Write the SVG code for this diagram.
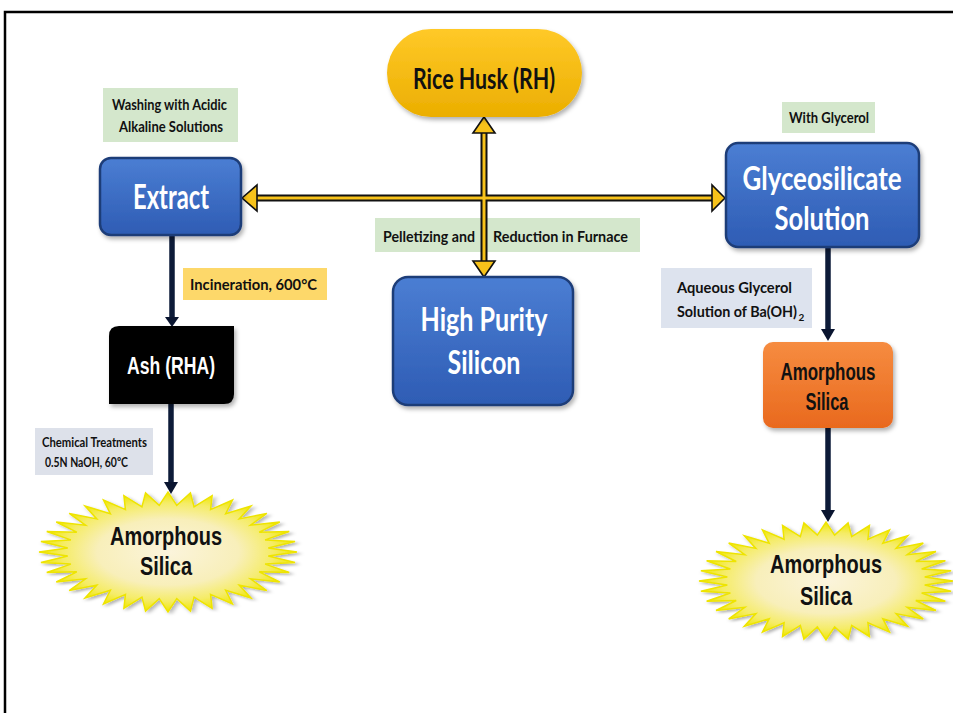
<svg xmlns="http://www.w3.org/2000/svg" width="953" height="713" viewBox="0 0 953 713">
<style>
.lbl{font-family:"Lato","Liberation Sans",sans-serif;font-weight:bold;font-size:15.5px;fill:#111}
.big{font-family:"Lato","Liberation Sans",sans-serif;font-weight:bold;fill:#fff;text-anchor:middle}
.ari{font-family:"Liberation Sans","Arial",sans-serif;font-weight:bold;text-anchor:middle}
.blue{fill:url(#gBlue);stroke:#1F3D78;stroke-width:2.5}
.shaftK{stroke:#111;stroke-width:7;fill:none}
.shaftY{stroke:#F7C21A;stroke-width:3;fill:none}
.headY{fill:#F7C21A;stroke:#111;stroke-width:1.6;stroke-linejoin:miter}
.shaftB{stroke:#0D1B38;stroke-width:5.5;fill:none}
.headB{fill:#0A1530}
.star{fill:url(#gStar);stroke:#EEE400;stroke-width:1.5}
</style>
<defs>
<linearGradient id="gBlue" x1="0" y1="0" x2="0" y2="1"><stop offset="0" stop-color="#4B7ED3"/><stop offset="1" stop-color="#2E5CB4"/></linearGradient>
<linearGradient id="gGold" x1="0" y1="0" x2="0" y2="1"><stop offset="0" stop-color="#FFC928"/><stop offset="1" stop-color="#EBAE00"/></linearGradient>
<linearGradient id="gOrange" x1="0" y1="0" x2="0" y2="1"><stop offset="0" stop-color="#F68C40"/><stop offset="1" stop-color="#E9691E"/></linearGradient>
<radialGradient id="gStar" cx="0.5" cy="0.5" r="0.5"><stop offset="0" stop-color="#FBF4DC"/><stop offset="0.55" stop-color="#F8EFBA"/><stop offset="0.82" stop-color="#F5EC66"/><stop offset="1" stop-color="#EFE600"/></radialGradient>
<filter id="sh" x="-20%" y="-20%" width="140%" height="150%"><feDropShadow dx="2" dy="3" stdDeviation="2" flood-color="#000" flood-opacity="0.3"/></filter>
<polygon id="starP" vector-effect="non-scaling-stroke" points="100,0 77.7,6.8 98.5,17.4 75.3,20.2 94,34.2 70.7,33 86.6,50 63.9,44.7 76.6,64.3 55.2,55.2 64.3,76.6 44.7,63.9 50,86.6 33,70.7 34.2,94 20.2,75.3 17.4,98.5 6.8,77.7 0,100 -6.8,77.7 -17.4,98.5 -20.2,75.3 -34.2,94 -33,70.7 -50,86.6 -44.7,63.9 -64.3,76.6 -55.2,55.2 -76.6,64.3 -63.9,44.7 -86.6,50 -70.7,33 -94,34.2 -75.3,20.2 -98.5,17.4 -77.7,6.8 -100,0 -77.7,-6.8 -98.5,-17.4 -75.3,-20.2 -94,-34.2 -70.7,-33 -86.6,-50 -63.9,-44.7 -76.6,-64.3 -55.2,-55.2 -64.3,-76.6 -44.7,-63.9 -50,-86.6 -33,-70.7 -34.2,-94 -20.2,-75.3 -17.4,-98.5 -6.8,-77.7 0,-100 6.8,-77.7 17.4,-98.5 20.2,-75.3 34.2,-94 33,-70.7 50,-86.6 44.7,-63.9 64.3,-76.6 55.2,-55.2 76.6,-64.3 63.9,-44.7 86.6,-50 70.7,-33 94,-34.2 75.3,-20.2 98.5,-17.4 77.7,-6.8"/>
</defs>
<rect width="953" height="713" fill="#fff"/>
<rect x="5" y="12" width="970" height="730" fill="none" stroke="#000" stroke-width="2.5"/>

<g id="lbl-washing">
<rect x="103" y="88" width="135" height="54" fill="#D4E7CC"/>
<text class="lbl" x="112" y="110" textLength="115" lengthAdjust="spacingAndGlyphs">Washing with Acidic</text>
<text class="lbl" x="119" y="132" textLength="104" lengthAdjust="spacingAndGlyphs">Alkaline Solutions</text>
</g>
<g id="lbl-glycerol">
<rect x="782" y="102" width="93" height="31" fill="#D4E7CC"/>
<text class="lbl" x="789" y="123" textLength="80" lengthAdjust="spacingAndGlyphs">With Glycerol</text>
</g>
<g id="lbl-pelletizing">
<rect x="375" y="218" width="265" height="34" fill="#D4E7CC"/>
<text class="lbl" x="383" y="242" textLength="92" lengthAdjust="spacingAndGlyphs">Pelletizing and</text>
<text class="lbl" x="493" y="242" textLength="135" lengthAdjust="spacingAndGlyphs">Reduction in Furnace</text>
</g>
<g id="lbl-incineration">
<rect x="183" y="268" width="144" height="32" fill="#FDD86A"/>
<text class="lbl" x="190" y="290" textLength="127" lengthAdjust="spacingAndGlyphs">Incineration, 600°C</text>
</g>
<g id="lbl-aqueous">
<rect x="661" y="268" width="151" height="60" fill="#DDE3EE"/>
<text class="lbl" x="677" y="293" textLength="115" lengthAdjust="spacingAndGlyphs">Aqueous Glycerol</text>
<text class="lbl" x="677" y="317"><tspan textLength="120" lengthAdjust="spacingAndGlyphs">Solution of Ba(OH)</tspan><tspan dx="1.5" dy="4" style="font-size:10px">2</tspan></text>
</g>
<g id="lbl-chemical">
<rect x="35" y="428" width="118" height="47" fill="#DDE1EA"/>
<text class="lbl" x="42" y="447" style="font-size:13.5px" textLength="105" lengthAdjust="spacingAndGlyphs">Chemical Treatments</text>
<text class="lbl" x="45" y="467" style="font-size:13.5px" textLength="83" lengthAdjust="spacingAndGlyphs">0.5N NaOH, 60ºC</text>
</g>

<g id="connectors">
<line class="shaftK" x1="256" y1="198" x2="713" y2="198"/>
<line class="shaftK" x1="484" y1="132" x2="484" y2="262"/>
<line class="shaftY" x1="256" y1="198" x2="713" y2="198"/>
<line class="shaftY" x1="484" y1="132" x2="484" y2="262"/>
<polygon class="headY" points="242,198 257,185 257,211"/>
<polygon class="headY" points="725,198 712,185 712,211"/>
<polygon class="headY" points="484,117 473,133 495,133"/>
<polygon class="headY" points="484,277 473,261 495,261"/>
<line class="shaftB" x1="172" y1="235" x2="172" y2="318"/>
<polygon class="headB" points="165,317 179,317 172,327"/>
<line class="shaftB" x1="171" y1="404" x2="171" y2="483"/>
<polygon class="headB" points="164,482 178,482 171,494"/>
<line class="shaftB" x1="828" y1="247" x2="828" y2="330"/>
<polygon class="headB" points="821,329 835,329 828,341"/>
<line class="shaftB" x1="828" y1="428" x2="828" y2="511"/>
<polygon class="headB" points="821,510 835,510 828,522"/>
</g>

<g id="rice-husk">
<rect x="387" y="29" width="195" height="88" rx="44" ry="44" fill="url(#gGold)" filter="url(#sh)"/>
<text class="ari" x="484" y="89" style="font-family:Lato,sans-serif" font-size="28" fill="#111" textLength="142" lengthAdjust="spacingAndGlyphs">Rice Husk (RH)</text>
</g>
<g id="extract">
<rect class="blue" x="100" y="158" width="141" height="77" rx="11" filter="url(#sh)"/>
<text class="big" x="171" y="209" font-size="35" textLength="76" lengthAdjust="spacingAndGlyphs">Extract</text>
</g>
<g id="glyceosilicate">
<rect class="blue" x="726" y="143" width="193" height="104" rx="12" filter="url(#sh)"/>
<text class="big" x="822" y="190" font-size="32" textLength="159" lengthAdjust="spacingAndGlyphs">Glyceosilicate</text>
<text class="big" x="822" y="230" font-size="32" textLength="95" lengthAdjust="spacingAndGlyphs">Solution</text>
</g>
<g id="high-purity">
<rect class="blue" x="393" y="277" width="180" height="128" rx="15" filter="url(#sh)"/>
<text class="big" x="484" y="331" font-size="33" textLength="127" lengthAdjust="spacingAndGlyphs">High Purity</text>
<text class="big" x="484" y="374" font-size="33" textLength="73" lengthAdjust="spacingAndGlyphs">Silicon</text>
</g>
<g id="ash">
<path d="M119,326 H234 V394 Q234,404 224,404 H109 V336 Q109,326 119,326 Z" fill="#000" filter="url(#sh)"/>
<text class="ari" x="171" y="374" font-size="23" fill="#fff" textLength="88" lengthAdjust="spacingAndGlyphs">Ash (RHA)</text>
</g>
<g id="amorphous-box">
<rect x="763" y="342" width="130" height="86" rx="10" fill="url(#gOrange)" filter="url(#sh)"/>
<text class="ari" x="828" y="380" font-size="23" fill="#111" textLength="95" lengthAdjust="spacingAndGlyphs">Amorphous</text>
<text class="ari" x="827" y="410" font-size="23" fill="#111" textLength="43" lengthAdjust="spacingAndGlyphs">Silica</text>
</g>
<g id="star-left">
<use href="#starP" class="star" transform="translate(168,552) scale(1.29,0.6)" filter="url(#sh)"/>
<text class="ari" x="166" y="545" font-size="25" fill="#111" textLength="112" lengthAdjust="spacingAndGlyphs">Amorphous</text>
<text class="ari" x="166" y="575" font-size="25" fill="#111" textLength="52" lengthAdjust="spacingAndGlyphs">Silica</text>
</g>
<g id="star-right">
<use href="#starP" class="star" transform="translate(826,581) scale(1.27,0.59)" filter="url(#sh)"/>
<text class="ari" x="826" y="573" font-size="25" fill="#111" textLength="112" lengthAdjust="spacingAndGlyphs">Amorphous</text>
<text class="ari" x="826" y="605" font-size="25" fill="#111" textLength="52" lengthAdjust="spacingAndGlyphs">Silica</text>
</g>
</svg>
